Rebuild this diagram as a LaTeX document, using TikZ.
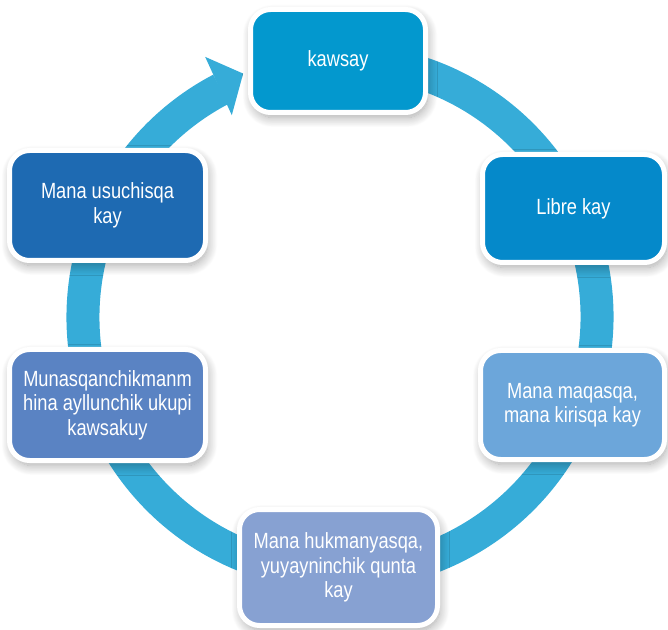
\documentclass[tikz,border=0pt]{standalone}
\usepackage{fontspec}
\setmainfont{Liberation Sans}[FakeStretch=0.83]
\usetikzlibrary{shadows.blur}
\definecolor{ringc}{HTML}{36ACD8}
\definecolor{cA}{HTML}{0398CE}
\definecolor{cB}{HTML}{0589CA}
\definecolor{cC}{HTML}{6CA6DA}
\definecolor{cD}{HTML}{87A1D2}
\definecolor{cE}{HTML}{5A83C3}
\definecolor{cF}{HTML}{1E6AB2}
\begin{document}
\begin{tikzpicture}[x=1pt,y=1pt,
  box/.style={draw=white, line width=5pt, rounded corners=20pt, text=white,
    align=center, inner sep=0pt, font=\fontsize{22}{24.5}\selectfont,
    blur shadow={shadow xshift=2pt, shadow yshift=-5pt, shadow blur radius=10pt,
      shadow blur steps=16, shadow opacity=35}},
  ring/.style={draw=ringc, line width=33pt}]
\useasboundingbox (0,0) rectangle (668,629);
\coordinate (C) at (340,312);
\draw[ring] ([shift={(C)}]80:257pt) arc[start angle=80, end angle=-242.4, radius=257pt];
\fill[ringc] ([shift={(C)}]117.4:293pt) -- ([shift={(C)}]111.7:262pt) -- ([shift={(C)}]118.2:229pt) -- cycle;
\node[box, fill=cA, minimum width=175pt, minimum height=103pt] (kawsay) at (338,568) {kawsay};
\node[box, fill=cB, minimum width=182pt, minimum height=108pt] (libre) at (573.5,420.5) {Libre kay};
\node[box, fill=cC, minimum width=184pt, minimum height=109pt] (maqasqa) at (572.5,224) {Mana maqasqa,\\mana kirisqa kay};
\node[box, fill=cD, minimum width=198pt, minimum height=116pt] (hukman) at (338.5,61.5) {Mana hukmanyasqa,\\yuyayninchik qunta\\kay};
\node[box, fill=cE, minimum width=196pt, minimum height=111pt] (munas) at (107.5,224) {Munasqanchikmanm\\hina ayllunchik ukupi\\kawsakuy};
\node[box, fill=cF, minimum width=196pt, minimum height=110pt] (usuchi) at (107.5,423.5) {Mana usuchisqa\\kay};
\end{tikzpicture}
\end{document}
